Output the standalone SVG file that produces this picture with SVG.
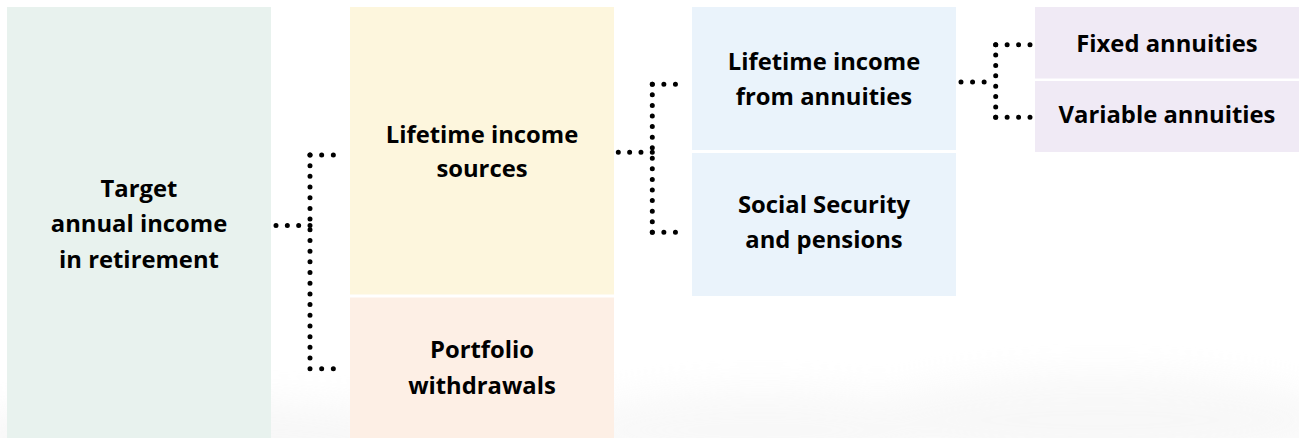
<svg xmlns="http://www.w3.org/2000/svg" width="1299" height="438" viewBox="0 0 1299 438">
  <defs>
    <style>
      .lbl { font-family: "Open Sans", "Noto Sans", "Liberation Sans", sans-serif; font-weight: 700; font-size: 23.8px; fill: #000; text-anchor: middle; }
      .dots { fill: none; stroke: #000; stroke-width: 5; stroke-linecap: round; }
    </style>
    <filter id="blur" x="-20%" y="-50%" width="140%" height="200%">
      <feGaussianBlur stdDeviation="18"/>
    </filter>
  </defs>
  <rect x="0" y="0" width="1299" height="438" fill="#ffffff"/>
  <g id="background-haze" filter="url(#blur)" opacity="0.45">
    <ellipse cx="200" cy="440" rx="260" ry="40" fill="#eeeeee"/>
    <ellipse cx="760" cy="430" rx="200" ry="40" fill="#f0f0f0"/>
    <ellipse cx="1100" cy="420" rx="240" ry="45" fill="#efefef"/>
  </g>

  <g id="node-target">
    <rect x="7" y="7" width="264" height="431" fill="#e8f2ee"/>
    <text class="lbl" x="139" y="197">Target</text>
    <text class="lbl" x="139" y="232">annual income</text>
    <text class="lbl" x="139" y="268">in retirement</text>
  </g>
  <g id="node-lifetime-sources">
    <rect x="350" y="7" width="264" height="287.5" fill="#fdf6dd"/>
    <text class="lbl" x="482" y="143">Lifetime income</text>
    <text class="lbl" x="482" y="177">sources</text>
  </g>
  <g id="node-portfolio">
    <rect x="350" y="297.5" width="264" height="140.5" fill="#fdefe5"/>
    <text class="lbl" x="482" y="358">Portfolio</text>
    <text class="lbl" x="482" y="394">withdrawals</text>
  </g>
  <g id="node-annuities">
    <rect x="692" y="7" width="264" height="143" fill="#eaf3fb"/>
    <text class="lbl" x="824" y="70">Lifetime income</text>
    <text class="lbl" x="824" y="105">from annuities</text>
  </g>
  <g id="node-social">
    <rect x="692" y="153" width="264" height="143" fill="#eaf3fb"/>
    <text class="lbl" x="824" y="213">Social Security</text>
    <text class="lbl" x="824" y="248">and pensions</text>
  </g>
  <g id="node-fixed">
    <rect x="1035" y="7" width="264" height="71.5" fill="#f0eaf5"/>
    <text class="lbl" x="1167" y="52">Fixed annuities</text>
  </g>
  <g id="node-variable">
    <rect x="1035" y="81" width="264" height="71" fill="#f0eaf5"/>
    <text class="lbl" x="1167" y="123">Variable annuities</text>
  </g>

  <g id="connectors">
    <!-- connector 1 -->
    <path class="dots" d="M310 155 V368.7" stroke-dasharray="0 10.685"/>
    <path class="dots" d="M310 155 H345" stroke-dasharray="0 11.667"/>
    <path class="dots" d="M310 368.7 H345" stroke-dasharray="0 11.667"/>
    <path class="dots" d="M276 225.5 H310" stroke-dasharray="0 11.333"/>
    <!-- connector 2 -->
    <path class="dots" d="M652.3 84.3 V232.3" stroke-dasharray="0 10.571"/>
    <path class="dots" d="M652.3 84.3 H687" stroke-dasharray="0 11.567"/>
    <path class="dots" d="M652.3 232.3 H687" stroke-dasharray="0 11.567"/>
    <path class="dots" d="M618.3 152.3 H652.3" stroke-dasharray="0 11.333"/>
    <!-- connector 3 -->
    <path class="dots" d="M995.7 44.7 V117.3" stroke-dasharray="0 10.371"/>
    <path class="dots" d="M995.7 44.7 H1030" stroke-dasharray="0 11.433"/>
    <path class="dots" d="M995.7 117.3 H1030" stroke-dasharray="0 11.433"/>
    <path class="dots" d="M961 82 H995.7" stroke-dasharray="0 11.567"/>
  </g>
</svg>
